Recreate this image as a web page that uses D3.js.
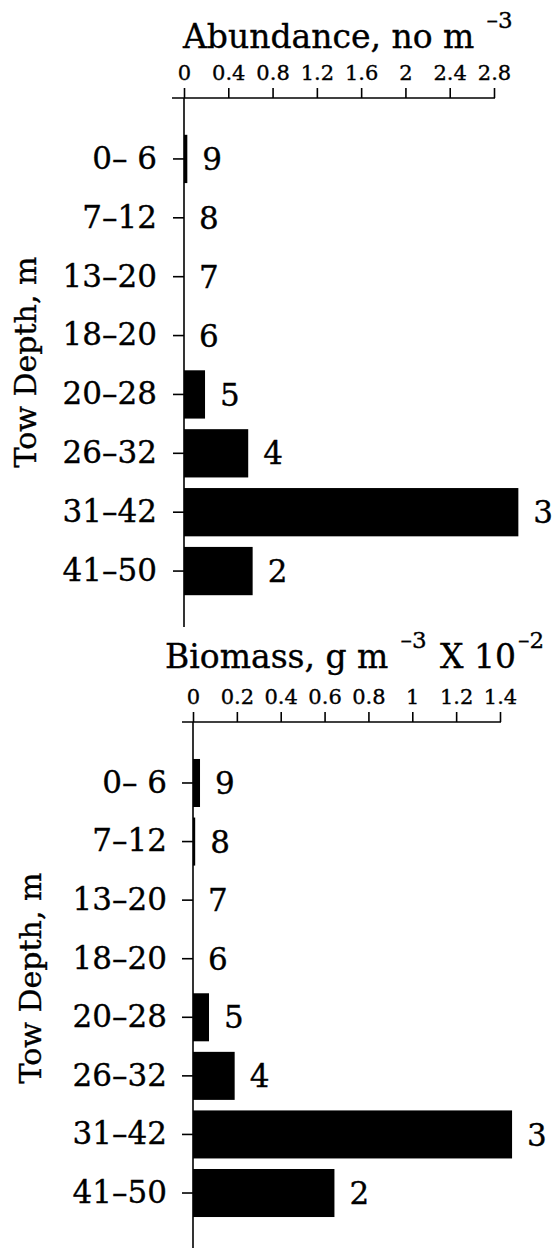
<!DOCTYPE html>
<html>
<head>
<meta charset="utf-8">
<script src="https://cdn.jsdelivr.net/npm/d3@7"></script>
<style>
  html, body { margin: 0; padding: 0; background: #fff; }
  svg { display: block; }
  text { font-family: "DejaVu Serif", "Liberation Serif", serif; fill: #000; stroke: #000; stroke-width: 0.35px; }
</style>
</head>
<body>
<svg id="chart" width="554" height="1250"></svg>
<script>
// Tow depth intervals (m) and the numbered tow for each interval
const depths = ["0\u2013 6", "7\u201312", "13\u201320", "18\u201320", "20\u201328", "26\u201332", "31\u201342", "41\u201350"];
const towNumbers = ["9", "8", "7", "6", "5", "4", "3", "2"];

// Abundance, no m^-3
const abundance = [0.03, 0, 0, 0, 0.19, 0.58, 3.02, 0.62];
const abundanceTicks = [0, 0.4, 0.8, 1.2, 1.6, 2, 2.4, 2.8];
const abundanceTickLabels = ["0", "0.4", "0.8", "1.2", "1.6", "2", "2.4", "2.8"];

// Biomass, g m^-3 x 10^-2
const biomass = [0.032, 0.01, 0, 0, 0.073, 0.19, 1.455, 0.645];
const biomassTicks = [0, 0.2, 0.4, 0.6, 0.8, 1, 1.2, 1.4];
const biomassTickLabels = ["0", "0.2", "0.4", "0.6", "0.8", "1", "1.2", "1.4"];

const svg = d3.select("#chart");

function panel(cfg) {
  const g = svg.append("g");
  const x = d3.scaleLinear().domain([0, cfg.ticks[cfg.ticks.length - 1]]).range(cfg.xRange);
  const y = d3.scaleBand().domain(depths).range(cfg.yRange).paddingInner(0.18).paddingOuter(0.09);

  // bars
  g.selectAll("rect.bar").data(cfg.values).enter().append("rect")
    .attr("class", "bar")
    .attr("x", x(0))
    .attr("y", (d, i) => y(depths[i]))
    .attr("width", d => x(d) - x(0))
    .attr("height", y.bandwidth())
    .attr("fill", "#000");

  // tow number labels at the bar ends
  g.selectAll("text.num").data(cfg.values).enter().append("text")
    .attr("class", "num")
    .attr("x", d => x(d) + 15)
    .attr("y", (d, i) => y(depths[i]) + y.bandwidth() / 2)
    .attr("dy", "0.36em")
    .attr("font-size", 31)
    .text((d, i) => towNumbers[i]);

  // top value axis
  const xAxis = d3.axisTop(x)
    .tickValues(cfg.ticks)
    .tickFormat((d, i) => cfg.tickLabels[i])
    .tickSize(10)
    .tickSizeOuter(0)
    .tickPadding(8);
  const ax = g.append("g").attr("transform", `translate(0,${cfg.axisY})`).call(xAxis);
  ax.select(".domain").remove();
  ax.selectAll(".tick line").attr("stroke", "#000").attr("stroke-width", 1.6);
  ax.selectAll(".tick text").attr("font-size", 21).attr("font-family", "DejaVu Serif").attr("fill", "#000");
  g.append("line")
    .attr("x1", x(0) - cfg.leftOverhang).attr("x2", x.range()[1] + 1)
    .attr("y1", cfg.axisY).attr("y2", cfg.axisY)
    .attr("stroke", "#000").attr("stroke-width", 1.6);

  // depth axis
  const yAxis = d3.axisLeft(y).tickSize(11).tickSizeOuter(0).tickPadding(cfg.labelPad);
  const ay = g.append("g").attr("transform", `translate(${x(0)},0)`).call(yAxis);
  ay.select(".domain").remove();
  ay.selectAll(".tick line").attr("stroke", "#000").attr("stroke-width", 1.6);
  ay.selectAll(".tick text").attr("font-size", 31).attr("font-family", "DejaVu Serif").attr("fill", "#000");
  g.append("line")
    .attr("x1", x(0)).attr("x2", x(0))
    .attr("y1", cfg.axisY).attr("y2", cfg.axisBottom)
    .attr("stroke", "#000").attr("stroke-width", 1.6);

  // axis title with superscripts
  const t = g.append("text")
    .attr("x", cfg.titleX).attr("y", cfg.titleY)
    .attr("font-size", 33);
  cfg.title.forEach(part => {
    const s = t.append("tspan").text(part.text);
    if (part.sup) s.attr("font-size", 23).attr("dy", -20).attr("dx", part.dx);
    else if (part.after) s.attr("dy", 20).attr("dx", part.dx);
  });

  // depth title
  g.append("text")
    .attr("transform", `translate(${cfg.yTitleX},${cfg.yTitleY}) rotate(-90)`)
    .attr("text-anchor", "middle")
    .attr("font-size", 30)
    .text("Tow Depth, m");
}

panel({
  values: abundance, ticks: abundanceTicks, tickLabels: abundanceTickLabels,
  xRange: [184, 494], yRange: [129.5, 600.5],
  axisY: 98, axisBottom: 627, leftOverhang: 12, labelPad: 16,
  titleX: 183, titleY: 48, yTitleX: 36, yTitleY: 362,
  title: [{ text: "Abundance, no m" }, { text: "\u20133", sup: true, dx: 12 }]
});

panel({
  values: biomass, ticks: biomassTicks, tickLabels: biomassTickLabels,
  xRange: [193, 500], yRange: [753.7, 1222.3],
  axisY: 722, axisBottom: 1248, leftOverhang: 11, labelPad: 15,
  titleX: 165, titleY: 668, yTitleX: 41, yTitleY: 978,
  title: [{ text: "Biomass, g m" }, { text: "\u20133", sup: true, dx: 12 },
          { text: " X 10", after: true, dx: 3 }, { text: "\u20132", sup: true, dx: 2 }]
});
</script>
</body>
</html>
